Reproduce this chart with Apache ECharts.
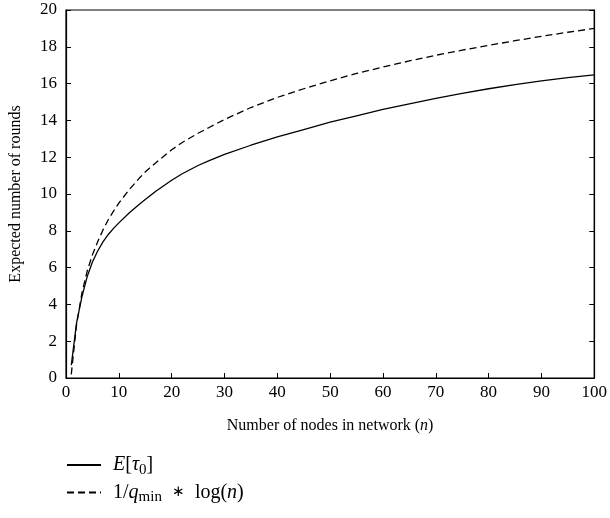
<!DOCTYPE html>
<html>
<head>
<meta charset="utf-8">
<script src="https://cdn.jsdelivr.net/npm/echarts@6/dist/echarts.min.js"></script>
<style>
  html, body { margin: 0; padding: 0; background: #fff; }
  #chart { width: 610px; height: 518px; }
</style>
</head>
<body>
<div id="chart"></div>
<script>
// values
const nodes = [1, 2, 3, 4, 5, 6, 7, 8, 9, 10, 12, 14, 15, 17, 20, 22, 25, 27, 30, 35, 40, 45, 50, 55, 60, 65, 70, 75, 80, 85, 90, 95, 100];
const expectedTau = [0.7, 3.0, 4.4, 5.5, 6.3, 6.9, 7.4, 7.8, 8.13, 8.43, 8.98, 9.47, 9.7, 10.15, 10.75, 11.1, 11.55, 11.8, 12.15, 12.65, 13.1, 13.5, 13.9, 14.25, 14.6, 14.9, 15.2, 15.47, 15.72, 15.95, 16.15, 16.32, 16.47];
const boundLog = [0.2, 2.9, 4.6, 5.8, 6.7, 7.4, 8.05, 8.6, 9.07, 9.5, 10.25, 10.9, 11.2, 11.7, 12.4, 12.8, 13.3, 13.6, 14.05, 14.7, 15.25, 15.72, 16.15, 16.55, 16.9, 17.23, 17.54, 17.82, 18.08, 18.33, 18.57, 18.79, 19.0];
const seriesNames = ['tau', 'bound'];

const font = 'Liberation Serif';
const pairs = (xs, ys) => xs.map((x, i) => [x, ys[i]]);

let myChart = echarts.init(document.getElementById('chart'));
myChart.setOption({
  animation: false,
  textStyle: { fontFamily: font, color: '#000' },
  grid: { left: 66, right: 15, top: 10, bottom: 140, show: true, borderColor: '#000', borderWidth: 1.2 },
  xAxis: {
    type: 'value', min: 0, max: 100, interval: 10,
    name: '{a|Number of nodes in network (}{i|n}{a|)}',
    nameLocation: 'middle', nameGap: 40,
    nameTextStyle: { rich: { a: { fontSize: 16, fontFamily: font }, i: { fontSize: 16, fontFamily: font, fontStyle: 'italic' } } },
    axisLine: { lineStyle: { color: '#000', width: 1.2 } },
    axisTick: { inside: true, length: 5, lineStyle: { color: '#000' } },
    axisLabel: { fontSize: 17, color: '#000', margin: 6 },
    splitLine: { show: false }
  },
  yAxis: [{
    type: 'value', min: 0, max: 20, interval: 2,
    name: 'Expected number of rounds',
    nameLocation: 'middle', nameGap: 42,
    nameTextStyle: { fontSize: 16 },
    axisLine: { lineStyle: { color: '#000', width: 1.2 } },
    axisTick: { inside: true, length: 5, lineStyle: { color: '#000' } },
    axisLabel: { fontSize: 17, color: '#000', margin: 9 },
    splitLine: { show: false }
  }, {
    type: 'value', min: 0, max: 20, interval: 2, position: 'right',
    axisLine: { show: true, lineStyle: { color: '#000', width: 1.2 } },
    axisTick: { inside: true, length: 5, lineStyle: { color: '#000' } },
    axisLabel: { show: false },
    splitLine: { show: false }
  }],
  legend: {
    orient: 'vertical', left: 61, top: 450, itemGap: 5,
    itemWidth: 34, itemHeight: 14,
    data: seriesNames,
    itemStyle: { opacity: 0 },
    formatter: function (name) {
      if (name === 'tau') return '{i|E}{a|[}{i|τ}{s|0}{a|]}';
      return '{a|1/}{i|q}{s|min}{a|  }{o|∗}{a|  log(}{i|n}{a|)}';
    },
    textStyle: {
      padding: [0, 0, 0, 7],
      rich: {
        a: { fontSize: 20, fontFamily: font, color: '#000' },
        i: { fontSize: 20, fontFamily: font, fontStyle: 'italic', color: '#000' },
        o: { fontSize: 15, fontFamily: font, color: '#000' },
        s: { fontSize: 15, fontFamily: font, color: '#000', padding: [10, 0, 0, 0] }
      }
    }
  },
  series: [{
    name: 'tau', type: 'line', symbol: 'none',
    data: pairs(nodes, expectedTau),
    lineStyle: { color: '#000', width: 1.3, type: 'solid' },
    itemStyle: { color: '#000' }
  }, {
    name: 'bound', type: 'line', symbol: 'none',
    data: pairs(nodes, boundLog),
    lineStyle: { color: '#000', width: 1.3, type: [7, 4] },
    itemStyle: { color: '#000' }
  }]
});
</script>
</body>
</html>
